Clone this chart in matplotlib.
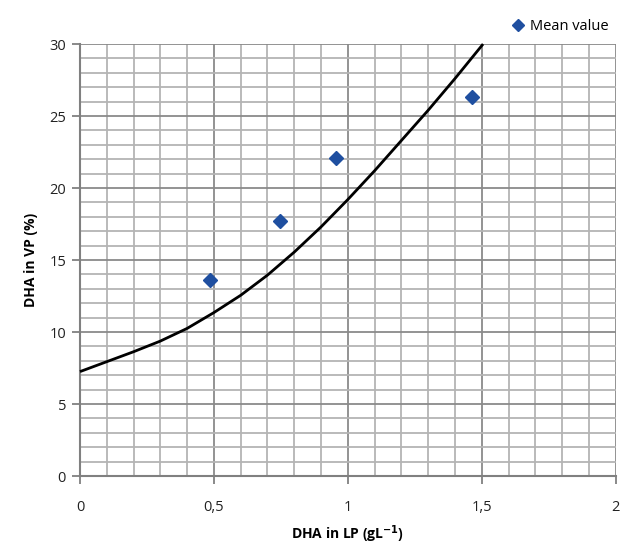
import matplotlib
matplotlib.use("Agg")
import matplotlib.pyplot as plt
import numpy as np
from matplotlib.ticker import MultipleLocator, FixedLocator

# Data
mean_x = [0.486, 0.748, 0.956, 1.462]
mean_y = [13.6, 17.7, 22.1, 26.35]

curve_x = [0.0, 0.1, 0.2, 0.3, 0.4, 0.5, 0.6, 0.7, 0.8, 0.9, 1.0, 1.1, 1.2, 1.3, 1.4, 1.505]
curve_y = [7.25, 7.94, 8.63, 9.37, 10.25, 11.35, 12.55, 13.95, 15.55, 17.3, 19.2, 21.2, 23.3, 25.4, 27.6, 30.0]

x_ticks = [0, 0.5, 1, 1.5, 2]
x_tick_labels = ["0", "0,5", "1", "1,5", "2"]
y_ticks = [0, 5, 10, 15, 20, 25, 30]
y_tick_labels = ["0", "5", "10", "15", "20", "25", "30"]

plt.rcParams['font.family'] = ['Open Sans', 'DejaVu Sans']

fig = plt.figure(figsize=(6.2, 5.45), dpi=100)
ax = fig.add_axes([0.129, 0.1266, 0.864, 0.7926])

ax.set_xlim(0, 2)
ax.set_ylim(0, 30)

# grid
ax.xaxis.set_minor_locator(MultipleLocator(0.1))
ax.yaxis.set_minor_locator(MultipleLocator(1))
ax.set_xticks(x_ticks)
ax.set_xticklabels(x_tick_labels)
ax.set_yticks(y_ticks)
ax.set_yticklabels(y_tick_labels)
ax.grid(which='minor', color='#b4b4b4', linewidth=1.3)
ax.grid(which='major', color='#8a8a8a', linewidth=1.3)
ax.set_axisbelow(True)

for s in ['top', 'right']:
    ax.spines[s].set_visible(False)
for s in ['left', 'bottom']:
    ax.spines[s].set_color('#808080')
    ax.spines[s].set_linewidth(1.5)

ax.tick_params(axis='both', which='minor', length=0)
ax.tick_params(axis='y', which='major', length=6, width=1.3, color='#808080',
               labelsize=10.5, pad=4, labelcolor='#222222')
ax.tick_params(axis='x', which='major', length=6, width=1.3, color='#808080',
               labelsize=10.5, pad=11, labelcolor='#222222')

ax.plot(curve_x, curve_y, color='black', linewidth=2.0, solid_joinstyle='round',
        solid_capstyle='butt', clip_on=False, zorder=3)
ax.plot(mean_x, mean_y, linestyle='none', marker='D', markersize=7.5, color='#1f4fa0',
        label='Mean value', zorder=4)

ax.set_xlabel('DHA in LP (gL$^{\\mathbf{-1}}$)', fontsize=10, fontweight='bold', labelpad=6)
ax.set_ylabel('DHA in VP (%)', fontsize=10, fontweight='bold', labelpad=8)

leg = ax.legend(loc='lower right', bbox_to_anchor=(1.005, 1.0), frameon=False,
                fontsize=10.5, handlelength=0.8, handletextpad=0.4, borderaxespad=0.3,
                markerscale=0.8)

fig.savefig('out.png', dpi=100)
